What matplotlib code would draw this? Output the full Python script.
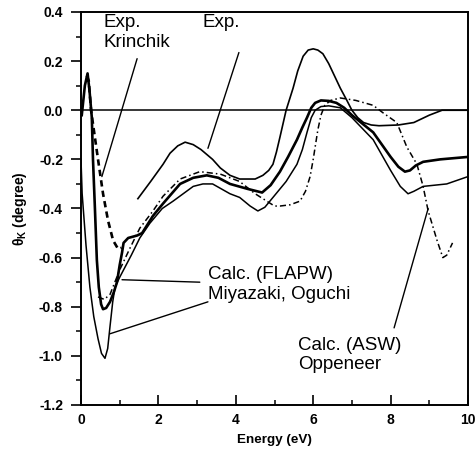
import matplotlib
matplotlib.use("Agg")
import matplotlib.pyplot as plt

# ---------------- data ----------------
# Exp. (thin solid)
exp_E = [1.47, 1.8, 2.12, 2.3, 2.5, 2.69, 2.9, 3.1, 3.4, 3.6, 3.85, 4.1, 4.5, 4.7, 4.85, 4.96,
         5.05, 5.14, 5.3, 5.48, 5.6, 5.74, 5.87, 6.0, 6.12, 6.25, 6.4, 6.55, 6.7, 6.87, 7.0,
         7.15, 7.3, 7.5, 7.7, 8.2, 8.6, 9.0, 9.33, 10.0]
exp_T = [-0.36, -0.29, -0.22, -0.175, -0.145, -0.13, -0.14, -0.16, -0.20, -0.235, -0.265, -0.28, -0.28, -0.265, -0.245, -0.22,
         -0.17, -0.11, 0.0, 0.09, 0.16, 0.22, 0.245, 0.25, 0.245, 0.23, 0.19, 0.14, 0.09, 0.04, 0.0,
         -0.03, -0.05, -0.06, -0.063, -0.06, -0.05, -0.02, 0.0, 0.0]

# Exp. Krinchik (thick dashed)
kr_E = [0.15, 0.2, 0.26, 0.35, 0.44, 0.57, 0.7, 0.83, 0.96, 1.05]
kr_T = [0.14, 0.12, 0.0, -0.10, -0.20, -0.34, -0.45, -0.53, -0.565, -0.56]

# Calc. FLAPW (thick solid)
fl1_E = [0.02, 0.1, 0.17, 0.22, 0.28, 0.31, 0.36, 0.41, 0.46, 0.52, 0.57, 0.65, 0.75, 0.85,
         0.93, 1.0, 1.06, 1.1, 1.22, 1.45, 1.58, 1.7, 1.86, 2.12, 2.56, 2.9, 3.25, 3.55, 3.85, 4.3,
         4.68, 4.9, 5.14, 5.35, 5.58, 5.72, 5.84, 5.95, 6.05, 6.2, 6.4, 6.6, 6.8, 7.0, 7.55, 8.0,
         8.2, 8.37, 8.5, 8.65, 8.84, 9.28, 10.0]
fl1_T = [-0.02, 0.10, 0.15, 0.08, -0.03, -0.20, -0.40, -0.61, -0.72, -0.79, -0.81, -0.805, -0.78, -0.74,
         -0.70, -0.63, -0.58, -0.54, -0.52, -0.51, -0.50, -0.47, -0.43, -0.38, -0.30, -0.275, -0.265, -0.275, -0.30, -0.32,
         -0.335, -0.305, -0.25, -0.19, -0.12, -0.07, -0.03, 0.01, 0.03, 0.04, 0.038, 0.03, 0.01, -0.02, -0.09, -0.19,
         -0.23, -0.25, -0.245, -0.225, -0.21, -0.20, -0.19]

# Calc. FLAPW (thin solid)
fl2_E = [0.0, 0.03, 0.13, 0.23, 0.33, 0.44, 0.53, 0.62, 0.69, 0.75, 0.82, 0.88, 1.0, 1.1,
         1.3, 1.52, 1.78, 2.1, 2.38, 2.9, 3.15, 3.4, 3.85, 4.1, 4.37, 4.57, 4.75, 4.96, 5.3, 5.58,
         5.72, 5.84, 5.95, 6.05, 6.2, 6.4, 6.7, 7.0, 7.55, 8.0, 8.25, 8.45, 8.6, 8.84, 9.45, 10.0]
fl2_T = [-0.20, -0.34, -0.55, -0.72, -0.84, -0.93, -0.99, -1.01, -0.97, -0.88, -0.78, -0.72, -0.68, -0.65,
         -0.59, -0.52, -0.46, -0.40, -0.37, -0.31, -0.30, -0.30, -0.34, -0.355, -0.39, -0.41, -0.395, -0.355, -0.29, -0.22,
         -0.16, -0.09, -0.03, 0.0, 0.015, 0.018, 0.01, -0.03, -0.12, -0.245, -0.31, -0.34, -0.33, -0.31, -0.30, -0.27]

# Calc. ASW (dash-dot)
asw_E = [0.44, 0.6, 0.75, 0.85, 1.0, 1.27, 1.52, 1.86, 2.12, 2.56, 3.07, 3.6, 4.1, 4.5,
         5.0, 5.14, 5.4, 5.66, 5.8, 5.92, 6.0, 6.05, 6.12, 6.2, 6.3, 6.45, 6.7, 7.1, 7.55, 7.8, 8.16,
         8.42, 8.68, 8.84, 8.97, 9.2, 9.35, 9.45, 9.6]
asw_T = [-0.76, -0.77, -0.75, -0.71, -0.65, -0.56, -0.48, -0.41, -0.35, -0.28, -0.25, -0.26, -0.29, -0.34,
         -0.39, -0.39, -0.385, -0.37, -0.33, -0.27, -0.20, -0.15, -0.08, -0.02, 0.02, 0.04, 0.05, 0.04, 0.02, -0.01, -0.05,
         -0.15, -0.22, -0.31, -0.41, -0.53, -0.60, -0.59, -0.54]

x_ticks = [0, 2, 4, 6, 8, 10]
y_ticks = [-1.2, -1.0, -0.8, -0.6, -0.4, -0.2, 0.0, 0.2, 0.4]
y_ticklabels = ["-1.2", "-1.0", "-0.8", "-0.6", "-0.4", "-0.2", "0.0", "0.2", "0.4"]

# annotations: text, text position, pointer lines
labels = ["Exp.\nKrinchik", "Exp.", "Calc. (FLAPW)\nMiyazaki, Oguchi", "Calc. (ASW)\nOppeneer"]
label_pos = [(0.57, 0.392), (3.15, 0.392), (3.28, -0.636), (5.61, -0.922)]
pointer_from = [(1.45, 0.21), (4.08, 0.235), (3.07, -0.70), (3.28, -0.78), (8.09, -0.886)]
pointer_to = [(0.54, -0.27), (3.28, -0.155), (1.06, -0.69), (0.75, -0.91), (8.97, -0.40)]

# ---------------- figure ----------------
plt.rcParams['font.family'] = ['Liberation Sans', 'DejaVu Sans']
plt.rcParams['mathtext.fontset'] = 'custom'
plt.rcParams['mathtext.rm'] = 'Liberation Sans:bold'
plt.rcParams['mathtext.it'] = 'Liberation Sans:bold'
plt.rcParams['mathtext.bf'] = 'Liberation Sans:bold'

fig = plt.figure(figsize=(4.75, 4.51), dpi=100)
ax = fig.add_axes([0.1705, 0.102, 0.8148, 0.8714])

ax.axhline(0.0, color='black', lw=1.1, zorder=1)

ax.plot(exp_E, exp_T, color='black', lw=1.2)
ax.plot(kr_E, kr_T, color='black', lw=1.9, linestyle=(0, (2.4, 1.6)))
ax.plot(fl1_E, fl1_T, color='black', lw=1.9)
ax.plot(fl2_E, fl2_T, color='black', lw=1.1)
ax.plot(asw_E, asw_T, color='black', lw=1.1, linestyle=(0, (4, 2, 1, 2)))

for (x0, y0), (x1, y1) in zip(pointer_from, pointer_to):
    ax.annotate("", xy=(x1, y1), xytext=(x0, y0),
                arrowprops=dict(arrowstyle='-', color='black', lw=1.0,
                                shrinkA=0, shrinkB=0))

for txt, (tx, ty) in zip(labels, label_pos):
    ax.text(tx, ty, txt, fontsize=13.5, ha='left', va='top', color='black')

ax.set_xlim(0, 10)
ax.set_ylim(-1.2, 0.4)
ax.set_xticks(x_ticks)
ax.set_xticklabels([str(v) for v in x_ticks])
ax.set_xticks([1, 3, 5, 7, 9], minor=True)
ax.set_yticks(y_ticks)
ax.set_yticklabels(y_ticklabels)
ax.set_yticks([-1.1, -0.9, -0.7, -0.5, -0.3, -0.1, 0.1, 0.3], minor=True)

ax.tick_params(axis='x', which='major', direction='in', length=7, width=1.2, pad=6)
ax.tick_params(axis='x', which='minor', direction='in', length=3.5, width=1.1)
ax.tick_params(axis='y', which='major', direction='out', length=7, width=1.2, pad=6)
ax.tick_params(axis='y', which='minor', direction='out', length=3.5, width=1.1)

for lab in ax.get_xticklabels() + ax.get_yticklabels():
    lab.set_fontweight('bold')
    lab.set_fontsize(10)

for s in ax.spines.values():
    s.set_linewidth(1.4)

ax.set_xlabel("Energy (eV)", fontsize=9.7, fontweight='bold', labelpad=5)
ax.set_ylabel(r"$\theta_K$ (degree)", fontsize=10, fontweight='bold', labelpad=7)

fig.savefig("out.png", dpi=100)
